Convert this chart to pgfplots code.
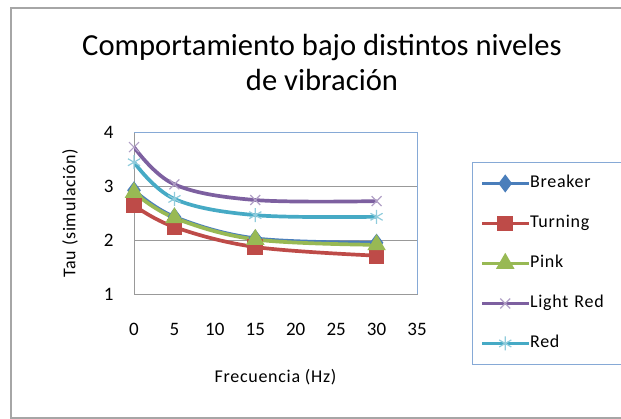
\documentclass[border=0pt]{standalone}
\usepackage{pgfplots}
\pgfplotsset{compat=1.18}
\usepackage{fontspec}
\setmainfont{Carlito}
\newfontfamily\lsfont[LetterSpace=4]{Carlito}
\definecolor{cBreaker}{HTML}{4A7EBB}
\definecolor{cTurning}{HTML}{BE4B48}
\definecolor{cPink}{HTML}{98B954}
\definecolor{cLight}{HTML}{7D60A0}
\definecolor{cRed}{HTML}{46AAC5}
\definecolor{frameblue}{HTML}{86A9D6}
\begin{document}
\begin{tikzpicture}[x=1pt,y=1pt]
\useasboundingbox (0,0) rectangle (621,419);
\begin{scope}
\clip (0,0) rectangle (621,419);
\draw[gray!70,line width=1.2pt] (700,411) -- (11,411) -- (11,1) -- (700,1);
\end{scope}
\node[font=\fontsize{30.6}{35}\selectfont,align=center] at (322,357) {Comportamiento bajo distintos niveles\\de vibración};
\begin{axis}[
  at={(134pt,125pt)}, anchor=south west,
  scale only axis, width=283pt, height=162pt,
  xmin=0, xmax=35, ymin=1, ymax=4,
  xtick={0,5,...,35}, ytick={1,2,3,4},
  major tick length=0pt,
  ymajorgrids, grid style={gray!80, line width=0.8pt},
  axis line style={gray!80, line width=0.8pt},
  /pgf/number format/assume math mode=true,
  tick label style={font=\fontsize{19}{19}\selectfont},
  xticklabel style={yshift=-26pt},
  yticklabel style={xshift=-17pt},
  xlabel={\lsfont Frecuencia (Hz)}, xlabel style={font=\fontsize{18}{18}\selectfont, yshift=-26pt},
  ylabel={\lsfont Tau (simulación)}, ylabel style={font=\fontsize{18}{18}\selectfont, yshift=19pt},
  every axis plot/.append style={line width=3.7pt, smooth, tension=0.6, mark options={solid, line width=1pt}},
  legend style={at={(axis description cs:1.194,0.815)}, anchor=north west, draw=frameblue, line width=1pt,
    font=\fontsize{18}{18}\selectfont, row sep=24pt, inner xsep=8pt, inner ysep=13pt,
    nodes={inner sep=0pt, text width=95pt, text height=12pt, text depth=4pt}},
  legend cell align=left,
  legend image code/.code={\draw[mark repeat=2,mark phase=2,#1] plot coordinates {(0pt,0pt) (23pt,0pt) (46pt,0pt)};},
  after end axis/.code={\draw[frameblue,line width=0.8pt] (rel axis cs:0,1) -- (rel axis cs:1,1) -- (rel axis cs:1,0);},
]
\addplot[cBreaker, mark=diamond*, mark size=6pt, mark options={fill=cBreaker, draw=cBreaker}] coordinates {(0,2.92) (5,2.43) (15,2.03) (30,1.95)};
\addlegendentry{\lsfont Breaker}
\addplot[cTurning, mark=square*, mark size=6pt, mark options={fill=cTurning, draw=cTurning}] coordinates {(0,2.64) (5,2.24) (15,1.87) (30,1.71)};
\addlegendentry{\lsfont Turning}
\addplot[cPink, mark=triangle*, mark size=7pt, mark options={fill=cPink, draw=cPink}] coordinates {(0,2.88) (5,2.41) (15,2.01) (30,1.91)};
\addlegendentry{\lsfont Pink}
\addplot[cLight, mark=x, mark size=7pt, mark options={draw=cLight!60, line width=1.2pt}] coordinates {(0,3.72) (5,3.03) (15,2.74) (30,2.72)};
\addlegendentry{\lsfont Light Red}
\addplot[cRed, mark=asterisk, mark size=7pt, mark options={draw=cRed!60, line width=1.2pt}] coordinates {(0,3.44) (5,2.76) (15,2.46) (30,2.43)};
\addlegendentry{\lsfont Red}
\end{axis}
\end{tikzpicture}
\end{document}
